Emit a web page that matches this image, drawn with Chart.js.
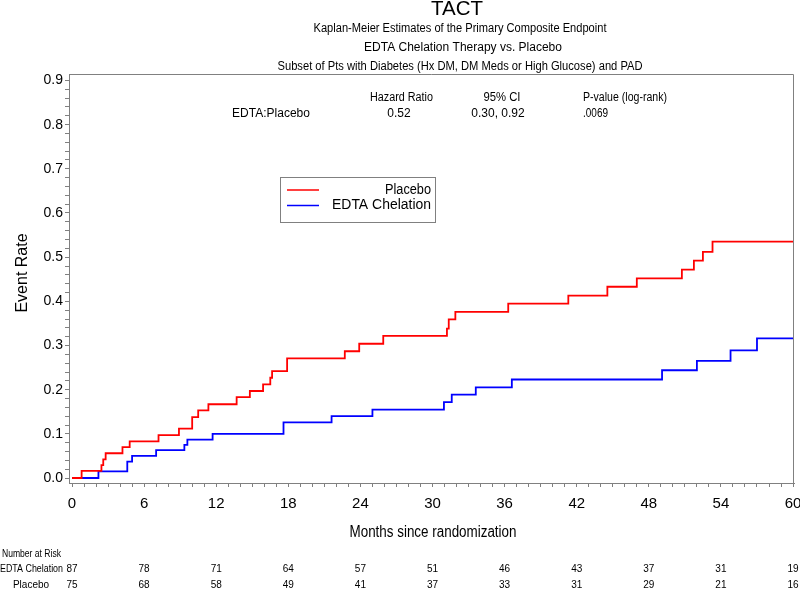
<!DOCTYPE html>
<html>
<head>
<meta charset="utf-8">
<title>TACT</title>
<script src="https://cdn.jsdelivr.net/npm/chart.js@4.4.1/dist/chart.umd.min.js"></script>
<style>
  html, body { margin: 0; padding: 0; background: #fff; }
  #chart { display: block; }
</style>
</head>
<body>
<canvas id="chart" width="800" height="589"></canvas>
<script>
// Kaplan-Meier steps (month of event, cumulative event rate)
const placeboMonths = [0, 0.8, 2.45, 2.6, 2.8, 4.2, 4.8, 7.2, 8.9, 10.0, 10.5, 11.35, 13.7, 14.8, 15.9, 16.5, 16.65, 17.9,
  22.7, 23.9, 25.9, 31.2, 31.35, 31.9, 36.3, 41.3, 44.55, 47.0, 50.75, 51.75, 52.5, 53.3, 60];
const placeboRate = [0, 0.016, 0.029, 0.042, 0.056, 0.070, 0.083, 0.097, 0.112, 0.138, 0.153, 0.167, 0.183, 0.197, 0.212, 0.227, 0.242, 0.271,
  0.287, 0.304, 0.322, 0.338, 0.359, 0.376, 0.395, 0.413, 0.433, 0.452, 0.472, 0.492, 0.512, 0.535, 0.535];

const edtaMonths = [0, 2.2, 4.6, 5.0, 7.0, 9.35, 9.6, 11.7, 17.6, 21.6, 25.0, 30.95, 31.6, 33.6, 36.6, 49.1, 52.0, 54.8, 57.0, 60];
const edtaRate = [0, 0.015, 0.037, 0.050, 0.063, 0.075, 0.087, 0.100, 0.126, 0.140, 0.155, 0.172, 0.189, 0.205, 0.223, 0.244, 0.265, 0.289, 0.316, 0.316];

const tickMonths = [0, 6, 12, 18, 24, 30, 36, 42, 48, 54, 60];
const edtaAtRisk = [87, 78, 71, 64, 57, 51, 46, 43, 37, 31, 19];
const placeboAtRisk = [75, 68, 58, 49, 41, 37, 33, 31, 29, 21, 16];

const titleLines = [
  'Kaplan-Meier Estimates of the Primary Composite Endpoint',
  'EDTA Chelation Therapy vs. Placebo',
  'Subset of Pts with Diabetes (Hx DM, DM Meds or High Glucose) and PAD',
];
const hrHeader = ['Hazard Ratio', '95% CI', 'P-value (log-rank)'];
const hrRow = ['EDTA:Placebo', '0.52', '0.30, 0.92', '.0069'];

const FONT = '"Liberation Sans", Arial, sans-serif';
const AXIS_GREY = '#808080';

const toPoints = (xs, ys) => xs.map((x, i) => ({ x, y: ys[i] }));

const text = (ctx, str, x, y, size, align, maxWidth) => {
  ctx.font = `${size}px ${FONT}`;
  ctx.textAlign = align;
  ctx.textBaseline = 'middle';
  ctx.fillStyle = '#000';
  if (maxWidth) {
    ctx.fillText(str, x, y, maxWidth);
  } else {
    ctx.fillText(str, x, y);
  }
};

const decorations = {
  id: 'decorations',
  afterDraw(chart) {
    const { ctx, chartArea, scales } = chart;
    const xs = scales.x;
    ctx.save();

    // top and right edges of the frame
    ctx.strokeStyle = AXIS_GREY;
    ctx.lineWidth = 1;
    ctx.beginPath();
    ctx.moveTo(chartArea.left, chartArea.top + 0.5);
    ctx.lineTo(chartArea.right - 0.5, chartArea.top + 0.5);
    ctx.lineTo(chartArea.right - 0.5, chartArea.bottom);
    ctx.stroke();

    // titles
    text(ctx, 'TACT', 457, 9.5, 21, 'center', 52);
    text(ctx, titleLines[0], 460, 28.5, 12, 'center', 293);
    text(ctx, titleLines[1], 463, 48, 12, 'center', 215);
    text(ctx, titleLines[2], 460, 66.5, 12, 'center', 365);

    // hazard ratio table
    text(ctx, hrHeader[0], 401.5, 97.5, 12, 'center', 63);
    text(ctx, hrHeader[1], 502, 97.5, 12, 'center', 37);
    text(ctx, hrHeader[2], 583, 97.5, 12, 'left', 84);
    text(ctx, hrRow[0], 271, 113.5, 12, 'center', 82);
    text(ctx, hrRow[1], 399, 113.5, 12, 'center', 26);
    text(ctx, hrRow[2], 498, 113.5, 12, 'center', 57);
    text(ctx, hrRow[3], 583, 113.5, 12, 'left', 25);

    // legend
    ctx.strokeStyle = AXIS_GREY;
    ctx.lineWidth = 1;
    ctx.strokeRect(280.5, 177.5, 155, 45);
    chart.data.datasets.forEach((ds, i) => {
      const y = 190 + i * 15.5;
      ctx.strokeStyle = ds.borderColor;
      ctx.lineWidth = 1.5;
      ctx.beginPath();
      ctx.moveTo(287, y);
      ctx.lineTo(319, y);
      ctx.stroke();
      text(ctx, ds.label, 431, y, 14, 'right', i === 0 ? 46 : 99);
    });

    // axis titles
    ctx.save();
    ctx.translate(23, 273);
    ctx.rotate(-Math.PI / 2);
    text(ctx, 'Event Rate', 0, 0, 16, 'center', 80);
    ctx.restore();
    text(ctx, 'Months since randomization', 433, 533, 16, 'center', 167);

    // number at risk
    text(ctx, 'Number at Risk', 2, 554, 10, 'left', 59);
    text(ctx, 'EDTA Chelation', 31.5, 569.5, 10, 'center', 63);
    text(ctx, 'Placebo', 31, 585, 10, 'center', 38);
    tickMonths.forEach((m, i) => {
      const px = xs.getPixelForValue(m);
      text(ctx, String(edtaAtRisk[i]), px, 569.5, 10, 'center');
      text(ctx, String(placeboAtRisk[i]), px, 585, 10, 'center');
    });

    ctx.restore();
  },
};

new Chart(document.getElementById('chart'), {
  type: 'line',
  data: {
    datasets: [
      {
        label: 'Placebo',
        data: toPoints(placeboMonths, placeboRate),
        borderColor: '#ff0000',
        borderWidth: 1.8,
        stepped: 'before',
        pointRadius: 0,
        fill: false,
      },
      {
        label: 'EDTA Chelation',
        data: toPoints(edtaMonths, edtaRate),
        borderColor: '#0000ff',
        borderWidth: 1.8,
        stepped: 'before',
        pointRadius: 0,
        fill: false,
      },
    ],
  },
  options: {
    responsive: false,
    animation: false,
    layout: { padding: { left: 0, top: 74, right: 6, bottom: 0 } },
    plugins: {
      legend: { display: false },
      title: { display: false },
      tooltip: { enabled: false },
    },
    scales: {
      x: {
        type: 'linear',
        min: -0.25,
        max: 60.08,
        afterFit: (scale) => {
          scale.height = 106;
          scale.paddingLeft = 0;
          scale.paddingRight = 0;
        },
        afterBuildTicks: (scale) => {
          scale.ticks = Array.from({ length: 61 }, (_, i) => ({ value: i }));
        },
        border: { display: true, color: AXIS_GREY, width: 1 },
        grid: { display: true, drawOnChartArea: false, drawTicks: true, tickLength: 4, color: AXIS_GREY },
        ticks: {
          autoSkip: false,
          maxRotation: 0,
          padding: 8,
          color: '#000',
          font: { family: FONT, size: 15 },
          callback: (v) => (v % 6 === 0 ? String(v) : ''),
        },
      },
      y: {
        type: 'linear',
        min: -0.0113,
        max: 0.9147,
        afterFit: (scale) => {
          scale.width = 69;
          scale.paddingTop = 0;
          scale.paddingBottom = 0;
        },
        afterBuildTicks: (scale) => {
          scale.ticks = Array.from({ length: 46 }, (_, i) => ({ value: Math.round(i * 2) / 100 }));
        },
        border: { display: true, color: AXIS_GREY, width: 1 },
        grid: { display: true, drawOnChartArea: false, drawTicks: true, tickLength: 4, color: AXIS_GREY },
        ticks: {
          autoSkip: false,
          padding: 2,
          color: '#000',
          font: { family: FONT, size: 14 },
          callback: (v) => (Math.round(v * 50) % 5 === 0 ? v.toFixed(1) : ''),
        },
      },
    },
  },
  plugins: [decorations],
});
</script>
</body>
</html>
